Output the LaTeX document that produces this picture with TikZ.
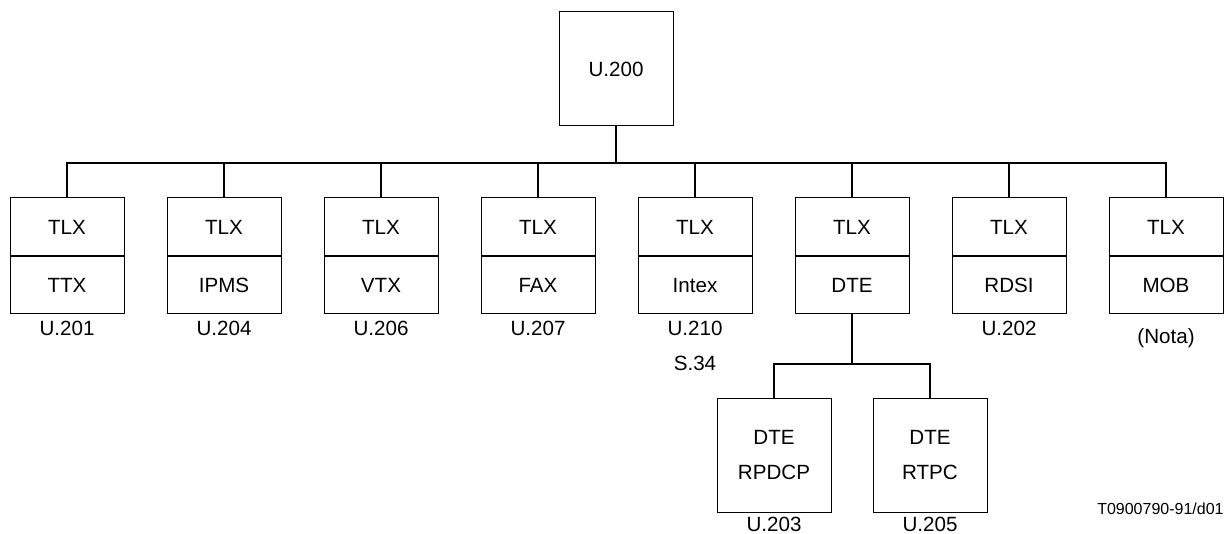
\documentclass[tikz,border=0pt]{standalone}
\usepackage{fontspec}
\setmainfont{Liberation Sans}
\usetikzlibrary{positioning}

\begin{document}
\begin{tikzpicture}[x=0.5pt,y=-0.5pt,
    every node/.style={font=\fontsize{10.3}{17.5}\selectfont},
    box/.style={draw,line width=0.5pt,minimum width=57pt,minimum height=57pt,inner sep=0pt,align=center},
    upper/.style={draw,line width=0.5pt,minimum width=57pt,minimum height=29pt,inner sep=0pt},
    lower/.style={upper,minimum height=28.5pt},
    link/.style={line width=1pt},
    reflabel/.style={inner sep=1pt}]
    \useasboundingbox (0,0) rectangle (1226,534);
    % root recommendation
    \node[box] (u200) at (616,69) {U.200};
    \draw[link] (u200.south) -- (616,163) coordinate (bus);
    % terminal services
    \foreach \i/\svc/\rec in {1/TTX/U.201,2/IPMS/U.204,3/VTX/U.206,4/FAX/U.207,
                              5/Intex/U.210,6/DTE/,7/RDSI/U.202,8/MOB/} {
        \node[upper] (tlx\i) at ({67+157*(\i-1)},227) {TLX};
        \node[lower,below=0pt of tlx\i] (svc\i) {\svc};
        \draw[link] (tlx\i.south west) -- (tlx\i.south east);
        \draw[link] (bus) -| (tlx\i.north);
        \node[reflabel,below=2pt of svc\i] (rec\i) {\rec};
    }
    % extra labels
    \node[reflabel,below=8pt of rec5] (s34) {S.34};
    \node[reflabel,below=6pt of svc8] (nota) {(Nota)};
    % DTE branch
    \draw[link] (svc6.south) -- ++(0,49) coordinate (fork);
    \node[box] (rpdcp) at (774,455) {DTE\\RPDCP};
    \node[box] (rtpc) at (930,455) {DTE\\RTPC};
    \draw[link] (fork) -| (rpdcp.north);
    \draw[link] (fork) -| (rtpc.north);
    \node[reflabel,below=1pt of rpdcp] (u203) {U.203};
    \node[reflabel,below=1pt of rtpc] (u205) {U.205};
    % figure tag
    \node[anchor=east,inner sep=0pt,font=\fontsize{8}{9}\selectfont] (tag) at (1224,509) {T0900790-91/d01};
\end{tikzpicture}
\end{document}
